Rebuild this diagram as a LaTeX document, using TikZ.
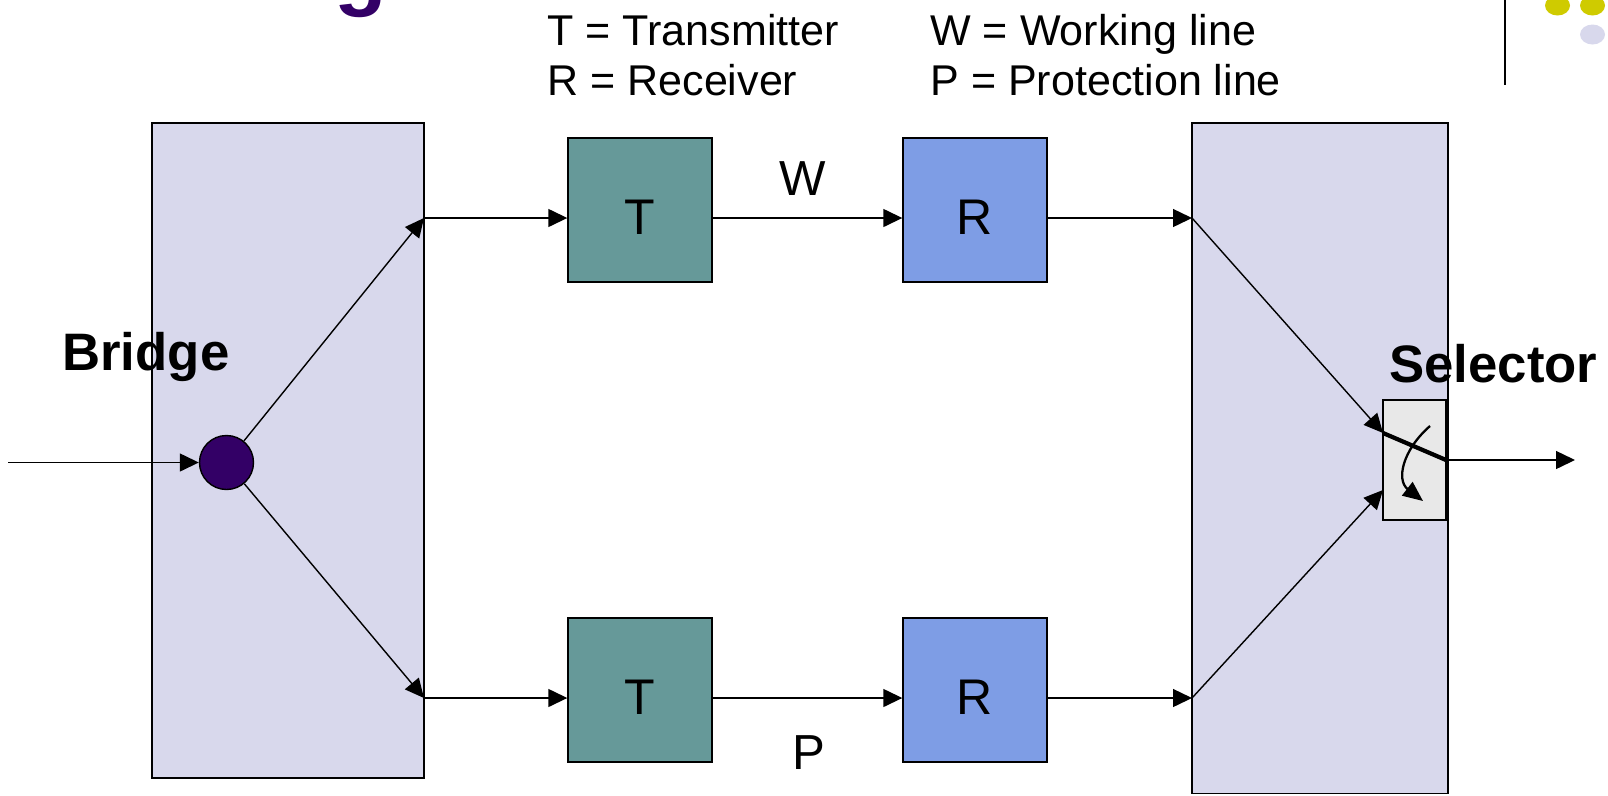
\documentclass[tikz,border=0pt]{standalone}
\usepackage{fontspec}
\setmainfont{Liberation Sans}
\usetikzlibrary{arrows.meta, positioning, calc}
\definecolor{PanelLav}{HTML}{D8D8EC}
\definecolor{TxTeal}{HTML}{669999}
\definecolor{RxBlue}{HTML}{7E9DE5}
\definecolor{NodePurple}{HTML}{330066}
\definecolor{SelGray}{HTML}{E8E8E8}
\definecolor{DotYellow}{HTML}{CFCB00}
\begin{document}
\begin{tikzpicture}[
  panel/.style={draw, line width=0.8pt, fill=PanelLav, inner sep=0pt},
  unit/.style={draw, line width=0.8pt, minimum size=2.88cm, inner sep=0pt, font=\fontsize{28.5}{28.5}\selectfont, text height=0.99cm, text depth=0pt},
  tx/.style={unit, fill=TxTeal},
  rx/.style={unit, fill=RxBlue},
  lab/.style={font=\fontsize{30}{30}\selectfont\bfseries, anchor=base west, inner sep=0pt},
  leg/.style={font=\fontsize{24.5}{24.5}\selectfont, anchor=base west, inner sep=0pt},
  lin/.style={font=\fontsize{28}{28}\selectfont, anchor=base west, inner sep=0pt},
  arr/.style={-{Triangle[length=0.38cm, width=0.36cm]}, line width=0.8pt},
  sarr/.style={-{Triangle[length=0.4cm, width=0.34cm]}, line width=1.3pt}]
\useasboundingbox (0,0) rectangle (32.16,-15.9);
\clip (0,0) rectangle (32.16,-15.9);
% title remnant and corner marks
\node[font=\fontsize{49}{49}\selectfont\bfseries, text=NodePurple, anchor=base west, inner sep=0pt] (ttl) at (6.68,0.02) {g};
\draw[line width=1.1pt] (30.1,0) -- (30.1,-1.7);
\fill[DotYellow] (31.15,-0.11) ellipse [x radius=0.25, y radius=0.2];
\fill[DotYellow] (31.85,-0.11) ellipse [x radius=0.25, y radius=0.2];
\fill[PanelLav] (31.85,-0.69) ellipse [x radius=0.25, y radius=0.2];
% legend
\node[leg] (lt) at (10.94,-0.9) {T = Transmitter};
\node[leg] (lr) at (10.94,-1.9) {R = Receiver};
\node[leg] (lw) at (18.6,-0.9) {W = Working line};
\node[leg] (lp) at (18.6,-1.9) {P = Protection line};
% bridge and selector panels
\node[panel, minimum width=5.44cm, minimum height=13.1cm] (bl) at (5.76,-9.01) {};
\node[panel, minimum width=5.12cm, minimum height=13.41cm] (sl) at (26.4,-9.165) {};
\node[lab] (brl) at (1.24,-7.4) {Bridge};
\node[lab] (sll) at (27.78,-7.64) {Selector};
\node[circle, draw, line width=0.8pt, fill=NodePurple, minimum size=1.08cm, inner sep=0pt] (jn) at (4.53,-9.25) {};
\node[draw, line width=0.8pt, fill=SelGray, minimum width=1.26cm, minimum height=2.4cm, inner sep=0pt] (sel) at (28.29,-9.2) {};
% transmitters and receivers
\node[tx] (tw) at (12.8,-4.2) {T};
\node[rx] (rw) at (19.5,-4.2) {R};
\node[tx] (tp) at (12.8,-13.8) {T};
\node[rx] (rp) at (19.5,-13.8) {R};
\node[lin] (wl) at (15.58,-3.9) {W};
\node[lin] (pl) at (15.84,-15.38) {P};
\coordinate (src) at (0.16,-9.25); \coordinate (bw) at (8.48,-4.36); \coordinate (bp) at (8.48,-13.96);
\coordinate (sw) at (23.84,-4.36); \coordinate (sp) at (23.84,-13.96);
\coordinate (sa) at (27.66,-8.66); \coordinate (sb) at (28.92,-9.2); \coordinate (sc) at (27.66,-9.8); \coordinate (out) at (31.5,-9.2);
\coordinate (cs) at (28.6,-8.52); \coordinate (ce) at (28.46,-10.02);
\draw[arr] (src) -- (jn); \draw[arr] (jn) -- (bw); \draw[arr] (jn) -- (bp);
\draw[arr] (bw) -- (bw -| tw.west); \draw[arr] (bw -| tw.east) -- (bw -| rw.west); \draw[arr] (bw -| rw.east) -- (sw);
\draw[arr] (bp) -- (bp -| tp.west); \draw[arr] (bp -| tp.east) -- (bp -| rp.west); \draw[arr] (bp -| rp.east) -- (sp);
\draw[arr] (sw) -- (sa); \draw[arr] (sp) -- (sc);
\draw[line width=2.4pt] (sa) -- (sb); \draw[arr] (sb) -- (out);
\draw[sarr] (cs) .. controls (28.05,-9.0) and (27.92,-9.6) .. (ce);
\end{tikzpicture}
\end{document}
